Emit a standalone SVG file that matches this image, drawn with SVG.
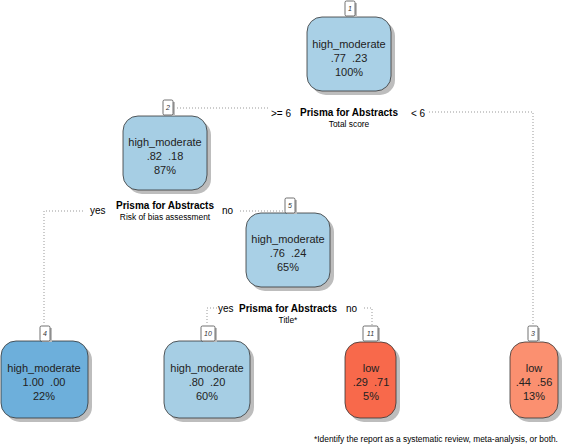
<svg xmlns="http://www.w3.org/2000/svg" width="566" height="447" viewBox="0 0 566 447" xml:space="preserve">
<defs>
<style>
.box{stroke:#333;stroke-width:0.8}
.sh{fill:#bdbdbd}
.t{font-family:"Liberation Sans",Arial,sans-serif;font-size:11px;fill:#222;text-anchor:middle;white-space:pre}
.num{font-family:"Liberation Sans",Arial,sans-serif;font-size:7px;font-style:italic;fill:#333;text-anchor:middle}
.nb{fill:#fff;stroke:#333;stroke-width:0.7}
.sp{font-family:"Liberation Sans",Arial,sans-serif;font-size:10px;font-weight:bold;fill:#000;text-anchor:middle}
.sub{font-family:"Liberation Sans",Arial,sans-serif;font-size:8.4px;fill:#000;text-anchor:middle}
.lab{font-family:"Liberation Sans",Arial,sans-serif;font-size:10px;fill:#000}
.e{fill:none;stroke:#999;stroke-width:1;stroke-dasharray:1,2}
</style>
</defs>
<g id="connectors">
<path class="e" d="M174,108 H268"/>
<path class="e" d="M429,112 H533 V325"/>
<path class="e" d="M83,211 H44 V325"/>
<path class="e" d="M240,211 H285"/>
<path class="e" d="M217,308 H207 V325"/>
<path class="e" d="M364,308 H372 V325"/>
</g>
<g id="split1">
<text class="sp" x="349" y="116">Prisma for Abstracts</text>
<text class="sub" x="349" y="127">Total score</text>
<text class="lab" x="271" y="117">&gt;= 6</text>
<text class="lab" x="411" y="117">&lt; 6</text>
</g>
<g id="split2">
<text class="sp" x="165" y="209">Prisma for Abstracts</text>
<text class="sub" x="165" y="220">Risk of bias assessment</text>
<text class="lab" x="90" y="214">yes</text>
<text class="lab" x="222" y="214">no</text>
</g>
<g id="split5">
<text class="sp" x="288" y="312">Prisma for Abstracts</text>
<text class="sub" x="288" y="323">Title*</text>
<text class="lab" x="218" y="312">yes</text>
<text class="lab" x="346" y="312">no</text>
</g>
<g id="node1">
<rect class="sh" x="311" y="21" width="84" height="74" rx="15"/>
<rect class="box" x="307" y="17" width="84" height="74" rx="15" fill="#a9d0e6"/>
<rect class="sh" x="347" y="3" width="10" height="14"/>
<rect class="nb" x="345" y="1" width="10" height="15" rx="1.5"/>
<text class="num" x="350" y="11">1</text>
<text class="t" x="349" y="48">high_moderate</text>
<text class="t" x="349" y="62">.77  .23</text>
<text class="t" x="349" y="76">100%</text>
</g>
<g id="node2">
<rect class="sh" x="127" y="120" width="84" height="74" rx="15"/>
<rect class="box" x="123" y="116" width="84" height="74" rx="15" fill="#a6cee4"/>
<rect class="sh" x="165" y="102" width="10" height="14"/>
<rect class="nb" x="163" y="100" width="10" height="15" rx="1.5"/>
<text class="num" x="168" y="110">2</text>
<text class="t" x="165" y="146">high_moderate</text>
<text class="t" x="165" y="160">.82  .18</text>
<text class="t" x="165" y="174">87%</text>
</g>
<g id="node5">
<rect class="sh" x="250" y="217" width="84" height="74" rx="15"/>
<rect class="box" x="246" y="213" width="84" height="74" rx="15" fill="#a9d0e6"/>
<rect class="sh" x="287" y="200" width="10" height="14"/>
<rect class="nb" x="285" y="198" width="10" height="15" rx="1.5"/>
<text class="num" x="290" y="208">5</text>
<text class="t" x="288" y="243">high_moderate</text>
<text class="t" x="288" y="257">.76  .24</text>
<text class="t" x="288" y="271">65%</text>
</g>
<g id="node4">
<rect class="sh" x="5" y="345" width="87" height="77" rx="15"/>
<rect class="box" x="1" y="341" width="87" height="77" rx="15" fill="#6dafdb"/>
<rect class="sh" x="42" y="328" width="10" height="14"/>
<rect class="nb" x="40" y="326" width="10" height="15" rx="1.5"/>
<text class="num" x="45" y="336">4</text>
<text class="t" x="44" y="372">high_moderate</text>
<text class="t" x="44" y="386">1.00  .00</text>
<text class="t" x="44" y="400">22%</text>
</g>
<g id="node10">
<rect class="sh" x="168" y="345" width="86" height="77" rx="15"/>
<rect class="box" x="164" y="341" width="86" height="77" rx="15" fill="#a6cee4"/>
<rect class="sh" x="203" y="328" width="14" height="14"/>
<rect class="nb" x="201" y="326" width="14" height="15" rx="1.5"/>
<text class="num" x="208" y="336">10</text>
<text class="t" x="207" y="372">high_moderate</text>
<text class="t" x="207" y="386">.80  .20</text>
<text class="t" x="207" y="400">60%</text>
</g>
<g id="node11">
<rect class="sh" x="349" y="346" width="51" height="76" rx="15"/>
<rect class="box" x="345" y="342" width="51" height="76" rx="15" fill="#f8694b"/>
<rect class="sh" x="365" y="328" width="15" height="14"/>
<rect class="nb" x="363" y="326" width="15" height="15" rx="1.5"/>
<text class="num" x="370.5" y="336">11</text>
<text class="t" x="371" y="372">low</text>
<text class="t" x="371" y="386">.29  .71</text>
<text class="t" x="371" y="400">5%</text>
</g>
<g id="node3">
<rect class="sh" x="514" y="346" width="48" height="76" rx="15"/>
<rect class="box" x="510" y="342" width="48" height="76" rx="15" fill="#fb9070"/>
<rect class="sh" x="530" y="328" width="10" height="14"/>
<rect class="nb" x="528" y="326" width="10" height="15" rx="1.5"/>
<text class="num" x="533" y="336">3</text>
<text class="t" x="534" y="372">low</text>
<text class="t" x="534" y="386">.44  .56</text>
<text class="t" x="534" y="400">13%</text>
</g>
<text class="sub" x="436" y="442">*Identify the report as a systematic review, meta-analysis, or both.</text>
</svg>
